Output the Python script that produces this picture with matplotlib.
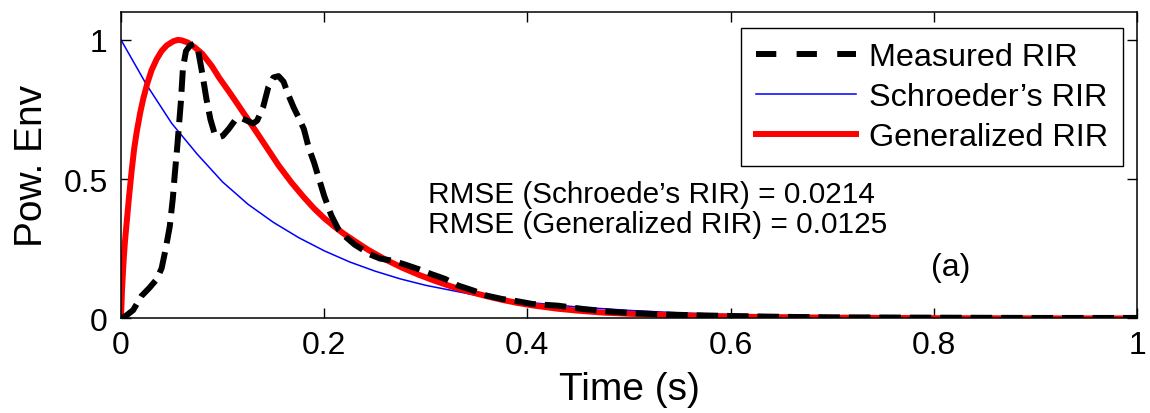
import matplotlib
matplotlib.use("Agg")
import matplotlib.pyplot as plt
from matplotlib.lines import Line2D

plt.rcParams['font.family'] = ['Liberation Sans', 'DejaVu Sans']

# Measured RIR (black dashed)
t_meas = [0, 0.005, 0.012, 0.02, 0.028, 0.035, 0.04, 0.044, 0.048, 0.051, 0.053,
          0.055, 0.057, 0.059, 0.061, 0.064, 0.068, 0.072, 0.076, 0.08, 0.084,
          0.088, 0.092, 0.096, 0.1, 0.106, 0.112, 0.118, 0.124, 0.13, 0.134,
          0.14, 0.145, 0.15, 0.155, 0.16, 0.165, 0.17, 0.175, 0.18, 0.185, 0.19,
          0.195, 0.2, 0.207, 0.214, 0.222, 0.23, 0.237, 0.245, 0.255, 0.268,
          0.28, 0.293, 0.305, 0.319, 0.332, 0.347, 0.36, 0.375, 0.39, 0.405,
          0.43, 0.455, 0.48, 0.5, 0.53, 0.56, 0.6, 0.65, 0.7, 0.8, 0.9, 1.0]
y_meas = [0.0, 0.01, 0.03, 0.08, 0.11, 0.14, 0.18, 0.25, 0.33, 0.43, 0.52,
          0.60, 0.69, 0.78, 0.90, 0.96, 0.98, 0.985, 0.96, 0.88, 0.79,
          0.715, 0.665, 0.65, 0.655, 0.68, 0.71, 0.72, 0.71, 0.70, 0.71,
          0.76, 0.83, 0.865, 0.87, 0.85, 0.80, 0.757, 0.72, 0.68, 0.61, 0.56,
          0.50, 0.44, 0.37, 0.32, 0.29, 0.265, 0.249, 0.23, 0.215, 0.207,
          0.193, 0.177, 0.16, 0.142, 0.118, 0.10, 0.082, 0.07, 0.062, 0.052,
          0.046, 0.034, 0.025, 0.02, 0.015, 0.012, 0.009, 0.006, 0.004, 0.003,
          0.002, 0.002]

# Schroeder's RIR (thin blue)
t_sch = [0, 0.025, 0.05, 0.075, 0.1, 0.125, 0.15, 0.175, 0.2, 0.225, 0.25,
         0.275, 0.3, 0.35, 0.4, 0.45, 0.5, 0.55, 0.6, 0.7, 0.8, 0.9, 1.0]
y_sch = [1.0, 0.84, 0.70, 0.59, 0.49, 0.41, 0.345, 0.29, 0.243, 0.203, 0.17,
         0.142, 0.119, 0.083, 0.058, 0.041, 0.029, 0.02, 0.014, 0.007, 0.0035,
         0.0017, 0.001]

# Generalized RIR (thick red)
t_gen = [0, 0.001, 0.002, 0.003, 0.004, 0.006, 0.008, 0.0105, 0.013, 0.0155,
         0.019, 0.022, 0.026, 0.030, 0.035, 0.040, 0.045, 0.0515, 0.056, 0.060,
         0.066, 0.073, 0.080, 0.0894, 0.097, 0.106, 0.115, 0.125, 0.135, 0.145,
         0.155, 0.168, 0.18, 0.19, 0.2, 0.21, 0.219, 0.23, 0.243, 0.26, 0.277,
         0.293, 0.309, 0.325, 0.342, 0.36, 0.375, 0.39, 0.405, 0.43, 0.45,
         0.475, 0.5, 0.55, 0.6, 0.65, 0.7, 0.8, 0.9, 1.0]
y_gen = [0, 0.10, 0.17, 0.23, 0.28, 0.36, 0.44, 0.53, 0.61, 0.67,
         0.74, 0.79, 0.845, 0.89, 0.93, 0.96, 0.98, 0.995, 1.0, 0.998,
         0.99, 0.972, 0.95, 0.906, 0.862, 0.816, 0.768, 0.714, 0.66, 0.605,
         0.55, 0.487, 0.435, 0.395, 0.36, 0.33, 0.305, 0.278, 0.247, 0.212, 0.182,
         0.157, 0.135, 0.115, 0.097, 0.08, 0.067, 0.056, 0.047, 0.035, 0.028,
         0.021, 0.017, 0.011, 0.007, 0.0045, 0.003, 0.0012, 0.0005, 0.0002]

x_ticks = [0, 0.2, 0.4, 0.6, 0.8, 1]
x_ticklabels = ['0', '0.2', '0.4', '0.6', '0.8', '1']
y_ticks = [0, 0.5, 1]
y_ticklabels = ['0', '0.5', '1']

rmse_lines = ["RMSE (Schroede\u2019s RIR) = 0.0214",
              "RMSE (Generalized RIR) = 0.0125"]

fig = plt.figure(figsize=(11.5, 4.14), dpi=100)
ax = fig.add_axes([0.1052, 0.2283, 0.8835, 0.7403])

ax.plot(t_sch, y_sch, color='blue', lw=1.1)
ax.plot(t_gen, y_gen, color='red', lw=4.3, solid_capstyle='butt')
ax.plot(t_meas, y_meas, color='black', lw=4.3, ls=(0, (3.6, 1.5)))

ax.set_xlim(0, 1)
ax.set_ylim(0, 1.1)
ax.set_xticks(x_ticks)
ax.set_xticklabels(x_ticklabels)
ax.set_yticks(y_ticks)
ax.set_yticklabels(y_ticklabels)
ax.tick_params(direction='in', length=7, width=1, top=True, right=True,
               labelsize=23)
ax.tick_params(axis='x', pad=8)
ax.tick_params(axis='y', pad=9.5)
for s in ax.spines.values():
    s.set_linewidth(1.1)

ax.set_xlabel('Time (s)', fontsize=28, labelpad=8)
ax.set_ylabel('Pow. Env', fontsize=28, labelpad=10)

ax.text(0.302, 0.4165, rmse_lines[0], fontsize=21.4, va='baseline')
ax.text(0.302, 0.31, rmse_lines[1], fontsize=21.4, va='baseline')
ax.text(0.797, 0.185, '(a)', fontsize=23, va='center')

handles = [Line2D([], [], color='black', lw=4.3, ls=(0, (3.4, 3.4))),
           Line2D([], [], color='blue', lw=1.1),
           Line2D([], [], color='red', lw=4.3)]
labels = ['Measured RIR', 'Schroeder\u2019s RIR', 'Generalized RIR']
leg = ax.legend(handles, labels, loc='upper right', bbox_to_anchor=(0.986, 0.948),
                borderaxespad=0, fontsize=23.3, fancybox=False, framealpha=1,
                edgecolor='black', handlelength=3.1, handletextpad=0.4,
                labelspacing=0.3, borderpad=0.45)
leg.get_frame().set_linewidth(1.0)

fig.savefig('out.png', dpi=100)
